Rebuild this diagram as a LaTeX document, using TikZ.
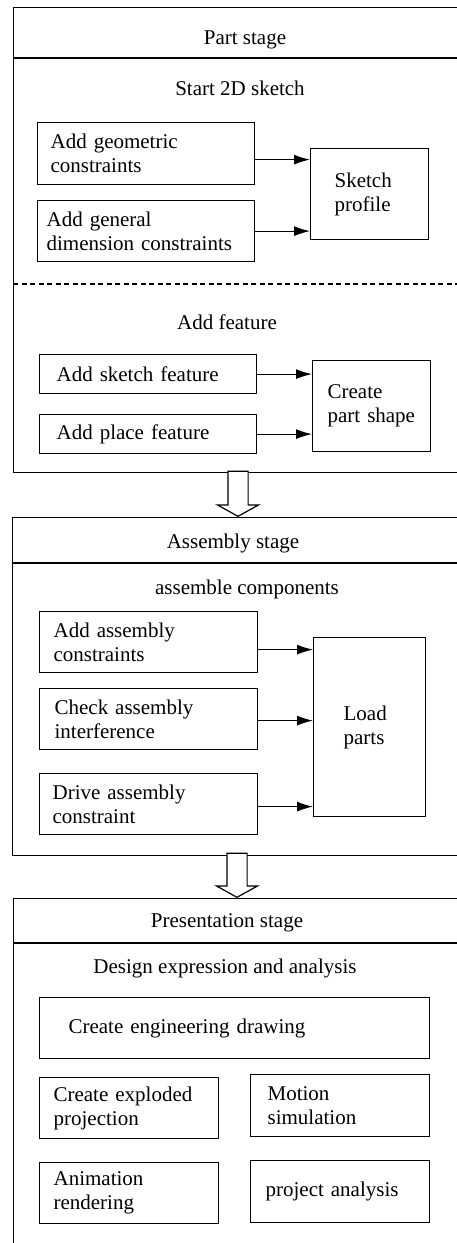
\documentclass[tikz,border=0pt]{standalone}
\usepackage{fontspec}
\setmainfont{Liberation Serif}
\usetikzlibrary{arrows.meta,shapes.arrows}

\begin{document}
\begin{tikzpicture}[x=1pt,y=-1pt,>={Latex[length=16pt,width=10pt]},line width=1.2pt,
  font=\fontsize{21pt}{24pt}\selectfont,
  stageframe/.style={draw,anchor=north west,inner sep=0pt},
  taskbox/.style={draw,anchor=north west,align=left,inner ysep=0pt},
  stagearrow/.style={draw,fill=white,single arrow,shape border rotate=270,anchor=tip,inner sep=9.5pt,
    minimum height=45pt,single arrow head extend=10.5pt,single arrow tip angle=122}]
\useasboundingbox (0,0) rectangle (457,1243);
\clip (0,0) rectangle (457,1243);

\node[stageframe,minimum width=457pt,minimum height=465pt] at (13,7) (partstage) {};
\node[stageframe,minimum width=458pt,minimum height=338pt] at (12,517) (assystage) {};
\node[stageframe,minimum width=457pt,minimum height=370pt] at (13,898) (presstage) {};
\draw (13,58) -- (470,58);
\draw (12,563) -- (470,563);
\draw (13,943) -- (470,943);
\draw[dash pattern=on 5pt off 3.5pt] (13,284) -- (470,284);

\node at (245,40) (parttitle) {Part stage};
\node at (240,88) (sketchtitle) {Start 2D sketch};
\node at (227,322) (featuretitle) {Add feature};
\node at (233,543) (assytitle) {Assembly stage};
\node at (247,589) (compstitle) {assemble components};
\node at (227,923) (prestitle) {Presentation stage};
\node at (225,968) (designtitle) {Design expression and analysis};

\node[taskbox,text width=191pt,inner xsep=13pt,minimum height=62pt] at (37,122) (geomcon) {Add geometric\\constraints};
\node[taskbox,text width=199pt,inner xsep=9pt,minimum height=61pt] at (37,200) (dimcon) {Add general\\dimension constraints};
\node[taskbox,text width=70pt,inner xsep=24pt,minimum height=91pt] at (310,148) (sketchprofile) {Sketch\\profile};
\node[taskbox,text width=183pt,inner xsep=17pt,minimum height=39pt] at (39,354) (sketchfeat) {Add sketch feature};
\node[taskbox,text width=183pt,inner xsep=17pt,minimum height=39pt] at (39,414) (placefeat) {Add place feature};
\node[taskbox,text width=88pt,inner xsep=15pt,minimum height=91pt] at (312,360) (partshape) {Create\\part shape};

\node[taskbox,text width=190pt,inner xsep=14pt,minimum height=61pt] at (39,611) (assycon) {Add assembly\\constraints};
\node[taskbox,text width=188pt,inner xsep=15pt,minimum height=61pt] at (39,688) (interf) {Check assembly\\interference};
\node[taskbox,text width=192pt,inner xsep=13pt,minimum height=61pt] at (39,773) (drive) {Drive assembly\\constraint};
\node[taskbox,text width=52pt,inner xsep=30pt,minimum height=179pt] at (313,637) (loadparts) {Load\\parts};

\node[taskbox,text width=332pt,inner xsep=29pt,minimum height=61pt] at (39,997) (engdraw) {Create engineering drawing};
\node[taskbox,text width=151pt,inner xsep=14pt,minimum height=61pt] at (39,1077) (exploded) {Create exploded\\projection};
\node[taskbox,text width=145pt,inner xsep=17pt,minimum height=62pt] at (250,1074) (motion) {Motion\\simulation};
\node[taskbox,text width=151pt,inner xsep=14pt,minimum height=61pt] at (39,1162) (animation) {Animation\\rendering};
\node[taskbox,text width=149pt,inner xsep=15pt,minimum height=62pt] at (250,1160) (projanalysis) {project analysis};

\draw[->] ([yshift=-6pt]geomcon.east) -- ([yshift=-6pt]geomcon.east -| sketchprofile.west);
\draw[->] (dimcon.east) -- (dimcon.east -| sketchprofile.west);
\draw[->] (sketchfeat.east) -- (sketchfeat.east -| partshape.west);
\draw[->] (placefeat.east) -- (placefeat.east -| partshape.west);
\draw[->] ([yshift=-7.5pt]assycon.east) -- ([yshift=-7.5pt]assycon.east -| loadparts.west);
\draw[->] ([yshift=-1.5pt]interf.east) -- ([yshift=-1.5pt]interf.east -| loadparts.west);
\draw[->] ([yshift=-2.5pt]drive.east) -- ([yshift=-2.5pt]drive.east -| loadparts.west);

\node[stagearrow] at (assystage.north -| 238,0) (partarrow) {};
\node[stagearrow,minimum height=44pt] at (presstage.north -| 237,0) (assyarrow) {};
\end{tikzpicture}
\end{document}
